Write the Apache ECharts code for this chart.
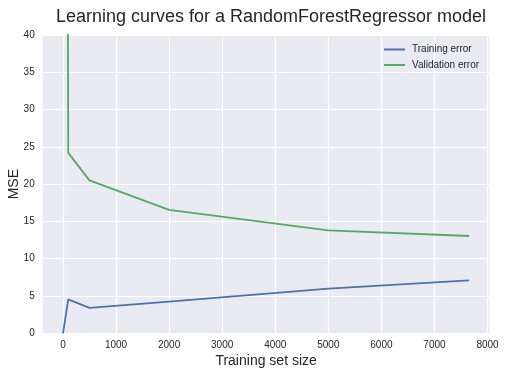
<!DOCTYPE html>
<html>
<head>
<meta charset="utf-8">
<script src="https://cdn.jsdelivr.net/npm/echarts@6/dist/echarts.min.js"></script>
<style>
  html, body { margin: 0; padding: 0; background: #fff; }
  #box1 { width: 506px; height: 376px; }
</style>
</head>
<body>
<div id="box1"></div>
<script>
var trainSizes = [1, 100, 500, 2000, 5000, 7654];
var trainingError = [0, 4.56, 3.4, 4.25, 6.0, 7.1];
var validationError = [280, 24.2, 20.5, 16.55, 13.8, 13.05];
var xTicks = [0, 1000, 2000, 3000, 4000, 5000, 6000, 7000, 8000];

window.onload = function () {
    var myChart = echarts.init(document.getElementById("box1"));
    var font = '"Liberation Sans", Arial, sans-serif';
    var txt = '#262626';

    // matplotlib style 5% margins on x
    var span = trainSizes[trainSizes.length - 1] - trainSizes[0];
    var xMin = trainSizes[0] - span * 0.05;
    var xMax = trainSizes[trainSizes.length - 1] + span * 0.05;

    function pairs(ys) {
        return trainSizes.map(function (x, i) { return [x, ys[i]]; });
    }

    var option = {
        backgroundColor: '#ffffff',
        animation: false,
        title: {
            text: 'Learning curves for a RandomForestRegressor model',
            left: 266,
            textAlign: 'center',
            top: 3,
            textStyle: { fontFamily: font, fontSize: 18, fontWeight: 'normal', color: txt }
        },
        legend: {
            orient: 'vertical',
            left: 379,
            top: 39.5,
            icon: 'rect',
            itemWidth: 21,
            itemHeight: 2,
            itemGap: 5.5,
            textStyle: { fontFamily: font, fontSize: 10, color: txt, padding: [0, 0, 0, 2] },
            data: ['Training error', 'Validation error']
        },
        grid: {
            left: 42.7,
            right: 16.5,
            top: 35,
            bottom: 42.7,
            outerBoundsMode: 'none',
            containLabel: false,
            show: true,
            backgroundColor: '#EAEAF2',
            borderWidth: 0
        },
        xAxis: {
            type: 'value',
            min: xMin,
            max: xMax,
            name: 'Training set size',
            nameLocation: 'middle',
            nameGap: 21,
            nameMoveOverlap: false,
            nameTextStyle: { fontFamily: font, fontSize: 14, color: txt },
            axisLine: { show: false },
            axisTick: { show: false, customValues: xTicks },
            axisLabel: {
                customValues: xTicks,
                formatter: function (v) { return String(v); },
                fontFamily: font, fontSize: 10, color: txt, margin: 7
            },
            splitLine: { show: true, lineStyle: { color: '#ffffff', width: 1.2 } }
        },
        yAxis: {
            type: 'value',
            min: 0,
            max: 40,
            interval: 5,
            name: 'MSE',
            nameLocation: 'middle',
            nameGap: 22,
            nameMoveOverlap: false,
            nameTextStyle: { fontFamily: font, fontSize: 14, color: txt },
            axisLine: { show: false },
            axisTick: { show: false },
            axisLabel: { fontFamily: font, fontSize: 10, color: txt, margin: 8 },
            splitLine: { show: true, lineStyle: { color: '#ffffff', width: 1.2 } }
        },
        series: [
            {
                name: 'Training error',
                type: 'line',
                data: pairs(trainingError),
                symbol: 'none',
                clip: true,
                color: '#4C72B0',
                lineStyle: { width: 1.8, color: '#4C72B0' }
            },
            {
                name: 'Validation error',
                type: 'line',
                data: pairs(validationError),
                symbol: 'none',
                clip: true,
                color: '#55A868',
                lineStyle: { width: 1.8, color: '#55A868' }
            }
        ]
    };
    myChart.setOption(option);
    window.addEventListener('resize', function () {
        myChart.resize();
    });
}
</script>
</body>
</html>
